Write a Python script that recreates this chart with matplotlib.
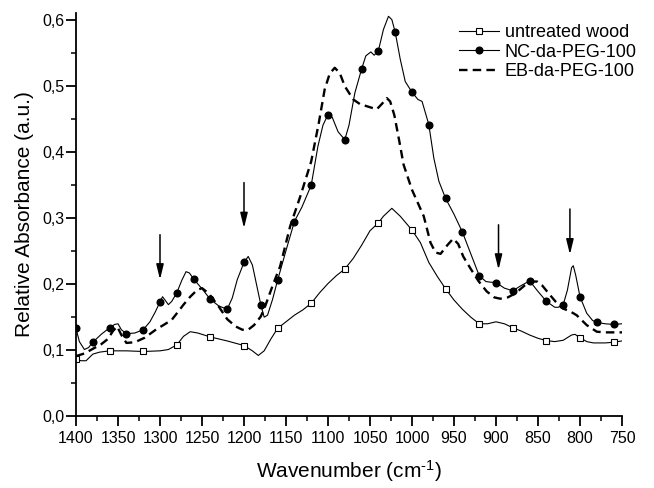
import numpy as np
import matplotlib
matplotlib.use('Agg')
import matplotlib.pyplot as plt
from matplotlib.ticker import MultipleLocator, FuncFormatter
from matplotlib.lines import Line2D

plt.rcParams['font.family'] = ['Liberation Sans', 'DejaVu Sans']
plt.rcParams['mathtext.fontset'] = 'custom'
plt.rcParams['mathtext.rm'] = 'Liberation Sans'
plt.rcParams['mathtext.default'] = 'regular'

# untreated wood (open squares every 40 cm-1)
wn_wood = [1400, 1394, 1388, 1380, 1372, 1360, 1340, 1320, 1300, 1290, 1280, 1272, 1264, 1255,
           1240, 1220, 1200, 1190, 1183, 1176, 1168, 1160, 1150, 1140, 1130, 1120, 1110, 1100,
           1090, 1080, 1070, 1060, 1050, 1040, 1034, 1024, 1014, 1000, 990, 980, 970, 960, 950,
           940, 930, 920, 910, 900, 890, 880, 870, 860, 850, 840, 830, 820, 810, 806, 800, 792,
           784, 770, 760, 750]
abs_wood = [0.085, 0.083, 0.083, 0.093, 0.096, 0.098, 0.098, 0.097, 0.098, 0.100, 0.107, 0.120,
            0.127, 0.125, 0.119, 0.113, 0.106, 0.098, 0.091, 0.098, 0.116, 0.132, 0.142, 0.152,
            0.160, 0.170, 0.186, 0.200, 0.212, 0.222, 0.238, 0.258, 0.280, 0.292, 0.302, 0.314,
            0.302, 0.281, 0.262, 0.232, 0.211, 0.192, 0.175, 0.161, 0.149, 0.139, 0.139, 0.142,
            0.139, 0.133, 0.128, 0.122, 0.117, 0.1135, 0.112, 0.114, 0.122, 0.123, 0.118, 0.112,
            0.110, 0.110, 0.111, 0.113]
marks_wood = [1400, 1360, 1320, 1280, 1240, 1200, 1160, 1120, 1080, 1040, 1000, 960, 920, 880,
              840, 800, 760]

# NC-da-PEG-100 (filled circles every 20 cm-1)
wn_nc = [1400, 1396, 1390, 1385, 1380, 1370, 1360, 1354, 1350, 1346, 1340, 1330, 1320, 1312,
         1306, 1300, 1297, 1294, 1290, 1286, 1280, 1274, 1269, 1265, 1260, 1250, 1240, 1230,
         1220, 1214, 1208, 1200, 1195, 1190, 1185, 1180, 1176, 1172, 1166, 1160, 1150, 1140,
         1131, 1120, 1112, 1106, 1100, 1095, 1088, 1080, 1075, 1068, 1060, 1055, 1049, 1045,
         1040, 1034, 1028, 1024, 1020, 1014, 1008, 1000, 993, 988, 980, 974, 968, 960, 950,
         940, 930, 920, 912, 906, 900, 890, 880, 870, 860, 850, 840, 830, 826, 820, 815, 810,
         808, 805, 800, 792, 785, 780, 770, 760, 750]
abs_nc = [0.132, 0.112, 0.100, 0.103, 0.111, 0.123, 0.133, 0.138, 0.139, 0.130, 0.124, 0.125,
          0.130, 0.142, 0.156, 0.172, 0.180, 0.175, 0.168, 0.173, 0.186, 0.205, 0.218, 0.216,
          0.207, 0.192, 0.176, 0.166, 0.161, 0.178, 0.206, 0.232, 0.241, 0.228, 0.198, 0.168,
          0.149, 0.152, 0.176, 0.205, 0.250, 0.294, 0.316, 0.349, 0.408, 0.440, 0.456, 0.452,
          0.430, 0.418, 0.440, 0.489, 0.525, 0.545, 0.551, 0.546, 0.553, 0.585, 0.605, 0.600,
          0.581, 0.540, 0.506, 0.490, 0.479, 0.476, 0.441, 0.390, 0.355, 0.329, 0.305, 0.278,
          0.245, 0.212, 0.203, 0.202, 0.2015, 0.193, 0.189, 0.197, 0.204, 0.188, 0.173, 0.164,
          0.164, 0.168, 0.190, 0.224, 0.227, 0.212, 0.180, 0.155, 0.144, 0.141, 0.139, 0.138,
          0.139]
marks_nc = list(range(1400, 750, -20))

# EB-da-PEG-100 (dashed)
wn_eb = [1400, 1390, 1380, 1370, 1362, 1356, 1351, 1346, 1340, 1330, 1318, 1304, 1296, 1286,
         1278, 1272, 1264, 1256, 1250, 1242, 1230, 1220, 1210, 1202, 1195, 1188, 1180, 1175,
         1165, 1157, 1145, 1133, 1120, 1111, 1104, 1098, 1092, 1086, 1080, 1070, 1062, 1052,
         1042, 1036, 1030, 1026, 1021, 1015, 1010, 1000, 986, 978, 972, 966, 958, 951, 945,
         939, 930, 921, 911, 902, 895, 886, 877, 866, 858, 851, 845, 834, 826, 820, 812, 804,
         792, 780, 770, 760, 750]
abs_eb = [0.090, 0.094, 0.101, 0.108, 0.116, 0.128, 0.135, 0.122, 0.110, 0.111, 0.118, 0.131,
          0.137, 0.145, 0.158, 0.168, 0.180, 0.190, 0.193, 0.185, 0.165, 0.146, 0.135, 0.130,
          0.130, 0.137, 0.150, 0.165, 0.200, 0.226, 0.287, 0.332, 0.385, 0.443, 0.494, 0.518,
          0.527, 0.519, 0.499, 0.479, 0.472, 0.468, 0.464, 0.472, 0.481, 0.476, 0.455, 0.415,
          0.380, 0.342, 0.302, 0.262, 0.247, 0.245, 0.258, 0.268, 0.260, 0.241, 0.222, 0.204,
          0.188, 0.179, 0.177, 0.179, 0.185, 0.197, 0.203, 0.203, 0.197, 0.180, 0.168, 0.162,
          0.158, 0.152, 0.137, 0.127, 0.126, 0.126, 0.126]

# arrows marking bands
arrow_wn = [1300, 1200, 897, 812]
arrow_top = [0.274, 0.353, 0.289, 0.313]
arrow_tip = [0.206, 0.284, 0.221, 0.244]

fig = plt.figure(figsize=(6.54, 4.88), dpi=100)
ax = fig.add_axes([76 / 654, 72.5 / 488, 546 / 654, 402.5 / 488])

wn_w = np.array(wn_wood)
wn_n = np.array(wn_nc)
ax.plot(wn_wood, abs_wood, color='k', lw=0.8, marker='s', ms=4.5, mfc='white', mec='k',
        mew=0.8, markevery=list(np.where(np.isin(wn_w, marks_wood))[0]))
ax.plot(wn_nc, abs_nc, color='k', lw=0.8, marker='o', ms=4.8, mfc='k', mec='k',
        markevery=list(np.where(np.isin(wn_n, marks_nc))[0]))
ax.plot(wn_eb, abs_eb, color='k', lw=1.7, ls=(0, (3.6, 2.2)))

for x, y0, y1 in zip(arrow_wn, arrow_top, arrow_tip):
    ax.annotate('', xy=(x, y1), xytext=(x, y0),
                arrowprops=dict(arrowstyle='-|>,head_length=0.9,head_width=0.22',
                                color='k', lw=1.1, shrinkA=0, shrinkB=0))

ax.set_xlim(1400, 750)
ax.set_ylim(0, 0.61)
ax.xaxis.set_major_locator(MultipleLocator(50))
ax.xaxis.set_minor_locator(MultipleLocator(25))
ax.yaxis.set_major_locator(MultipleLocator(0.1))
ax.yaxis.set_minor_locator(MultipleLocator(0.05))
ax.yaxis.set_major_formatter(FuncFormatter(lambda v, p: f'{v:.1f}'.replace('.', ',')))
for s in ['top', 'right']:
    ax.spines[s].set_visible(False)
for s in ['left', 'bottom']:
    ax.spines[s].set_linewidth(1.3)
ax.tick_params(which='major', direction='out', length=7, width=1.3, labelsize=11.5)
ax.tick_params(which='minor', direction='out', length=3.5, width=1.1)
ax.tick_params(axis='x', which='major', pad=4)
ax.tick_params(axis='y', which='major', pad=1.5)

ax.set_xlabel(r'Wavenumber (cm$^{\text{-}1}$)', fontsize=15, labelpad=9)
ax.set_ylabel('Relative Absorbance (a.u.)', fontsize=15, labelpad=6)

handles = [
    Line2D([], [], color='k', lw=0.8, marker='s', ms=4.5, mfc='white', mec='k', mew=0.8),
    Line2D([], [], color='k', lw=0.8, marker='o', ms=4.8, mfc='k', mec='k'),
    Line2D([], [], color='k', lw=1.7, ls=(0, (3.6, 2.2))),
]
fig.legend(handles, ['untreated wood', 'NC-da-PEG-100', 'EB-da-PEG-100'],
           loc='upper right', bbox_to_anchor=(646 / 654, 1 - 15 / 488),
           frameon=False, fontsize=13, borderpad=0, handlelength=2.2,
           handletextpad=0.35, labelspacing=0.15)

fig.savefig('out.png', dpi=100)
